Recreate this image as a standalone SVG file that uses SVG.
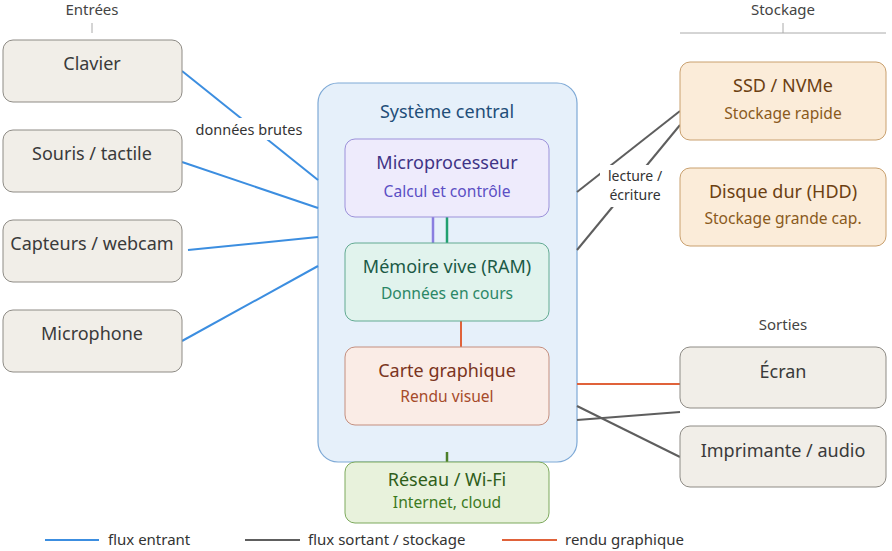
<svg xmlns="http://www.w3.org/2000/svg" width="892" height="551" viewBox="0 0 892 551">
<style>
text{font-family:"Noto Sans","Open Sans","DejaVu Sans",sans-serif;text-anchor:middle}
.t{font-size:18px}
.s{font-size:15.6px}
.h{font-size:15px;fill:#444}
.lab{font-size:14.5px;fill:#333}
.gen rect{fill:#f1eee8;stroke:#8e8b85;stroke-width:1}
.gen text{fill:#3a3a3a}
.sto rect{fill:#fbecd9;stroke:#c9a06e;stroke-width:1}
.blue{stroke:#3c8ee0;stroke-width:2;fill:none}
.gray{stroke:#5e5e5e;stroke-width:2;fill:none}
.red{stroke:#e0623a;stroke-width:2;fill:none}
.leg{font-size:15px;fill:#333;text-anchor:start}
</style>
<rect width="892" height="551" fill="#ffffff"/>

<g id="headers">
<text class="h" x="92" y="15">Entrées</text>
<line x1="92" y1="23" x2="92" y2="33" stroke="#aaa"/>
<text class="h" x="783" y="15">Stockage</text>
<line x1="680" y1="33" x2="886" y2="33" stroke="#aaa"/>
<line x1="783" y1="23" x2="783" y2="33" stroke="#aaa"/>
<text class="h" x="783" y="330">Sorties</text>
</g>

<g id="central">
<rect x="318" y="83" width="259" height="379" rx="20" fill="#e6f0fa" stroke="#7ea9d6" stroke-width="1.2"/>
<text x="447" y="118" class="t" fill="#1f4e79">Système central</text>
</g>

<g id="connectors">
<line class="blue" x1="182" y1="71" x2="318" y2="180"/>
<line class="blue" x1="182" y1="162" x2="318" y2="208"/>
<line class="blue" x1="188" y1="250" x2="318" y2="237"/>
<line class="blue" x1="182" y1="341" x2="318" y2="266"/>
<rect x="190" y="118" width="118" height="22" fill="#ffffff"/>
<text class="lab" x="249" y="135">données brutes</text>
<line class="gray" x1="577" y1="192" x2="680" y2="111"/>
<line class="gray" x1="577" y1="250" x2="680" y2="125"/>
<rect x="600" y="165" width="70" height="42" fill="#ffffff"/>
<text class="lab" x="635" y="181" style="font-size:14px">lecture /</text>
<text class="lab" x="635" y="200" style="font-size:14px">écriture</text>
<line class="red" x1="577" y1="384" x2="680" y2="384"/>
<line class="gray" x1="577" y1="420" x2="680" y2="412"/>
<line class="gray" x1="577" y1="406" x2="680" y2="457"/>
<line x1="433" y1="217" x2="433" y2="243" stroke="#8a7ee0" stroke-width="2.5"/>
<line x1="447" y1="217" x2="447" y2="243" stroke="#22a070" stroke-width="2.5"/>
<line class="red" x1="461" y1="321" x2="461" y2="347"/>
<line x1="447" y1="452" x2="447" y2="462" stroke="#4d7f2a" stroke-width="2.5"/>
</g>

<g id="clavier" class="gen"><rect x="3" y="40" width="179" height="62" rx="10"/><text class="t" x="92" y="70">Clavier</text></g>
<g id="souris" class="gen"><rect x="3" y="130" width="179" height="62" rx="10"/><text class="t" x="92" y="160">Souris / tactile</text></g>
<g id="capteurs" class="gen"><rect x="3" y="220" width="179" height="62" rx="10"/><text class="t" x="92" y="250">Capteurs / webcam</text></g>
<g id="microphone" class="gen"><rect x="3" y="310" width="179" height="62" rx="10"/><text class="t" x="92" y="340">Microphone</text></g>

<g id="cpu"><rect x="345" y="139" width="204" height="78" rx="10" fill="#eeebfc" stroke="#9c91da"/>
<text class="t" x="447" y="169" fill="#3f3486">Microprocesseur</text>
<text class="s" x="447" y="197" fill="#5b4fc4">Calcul et contrôle</text></g>

<g id="ram"><rect x="345" y="243" width="204" height="78" rx="10" fill="#e1f3ed" stroke="#62aa92"/>
<text class="t" x="447" y="273" fill="#1b5a46">Mémoire vive (RAM)</text>
<text class="s" x="447" y="299" fill="#2b8766">Données en cours</text></g>

<g id="gpu"><rect x="345" y="347" width="204" height="78" rx="10" fill="#faece6" stroke="#c48e7e"/>
<text class="t" x="447" y="377" fill="#7a3420">Carte graphique</text>
<text class="s" x="447" y="402" fill="#a64a2a">Rendu visuel</text></g>

<g id="reseau"><rect x="345" y="462" width="204" height="61" rx="10" fill="#e8f2dc" stroke="#7ca95c"/>
<text class="t" x="447" y="486" fill="#2f5e1a">Réseau / Wi-Fi</text>
<text class="s" x="447" y="508" fill="#3d7a1f">Internet, cloud</text></g>

<g id="ssd" class="sto"><rect x="680" y="62" width="206" height="78" rx="10"/>
<text class="t" x="783" y="92" fill="#6b4012">SSD / NVMe</text>
<text class="s" x="783" y="119" fill="#8a5a1c">Stockage rapide</text></g>

<g id="hdd" class="sto"><rect x="680" y="168" width="206" height="78" rx="10"/>
<text class="t" x="783" y="198" fill="#6b4012">Disque dur (HDD)</text>
<text class="s" x="783" y="224" fill="#8a5a1c">Stockage grande cap.</text></g>

<g id="ecran" class="gen"><rect x="680" y="347" width="206" height="61" rx="10"/><text class="t" x="783" y="378">Écran</text></g>
<g id="imprimante" class="gen"><rect x="680" y="426" width="206" height="61" rx="10"/><text class="t" x="783" y="457">Imprimante / audio</text></g>

<g id="legend">
<line class="blue" x1="45" y1="540" x2="99" y2="540"/>
<text class="leg" x="108" y="545">flux entrant</text>
<line class="gray" x1="245" y1="540" x2="300" y2="540"/>
<text class="leg" x="308" y="545">flux sortant / stockage</text>
<line class="red" x1="502" y1="540" x2="557" y2="540"/>
<text class="leg" x="565" y="545">rendu graphique</text>
</g>
</svg>
